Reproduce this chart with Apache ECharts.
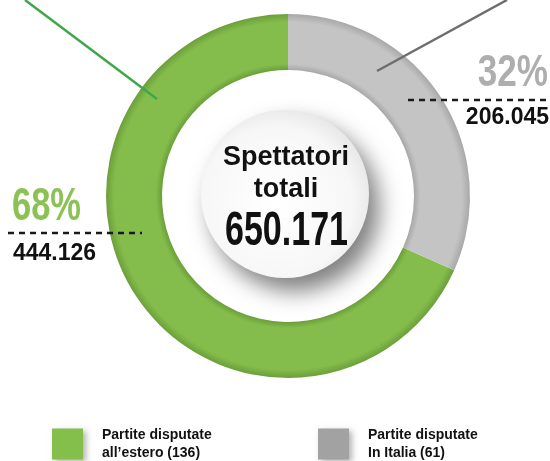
<!DOCTYPE html>
<html>
<head>
<meta charset="utf-8">
<script src="https://cdn.jsdelivr.net/npm/echarts@6/dist/echarts.min.js"></script>
<style>
  html, body { margin: 0; padding: 0; background: #ffffff; }
  #chart { width: 550px; height: 461px; }
</style>
</head>
<body>
<div id="chart"></div>
<script>
// Spectators by venue of the matches
const categories = ['Partite disputate\nall\u2019estero (136)', 'Partite disputate\nIn Italia (61)'];
const spectators = [444126, 206045];
const sliceColors = ['#84bd4b', '#c4c4c4'];
const swatchColors = ['#85bf4b', '#a2a2a2'];
const percentColors = ['#8cc153', '#aeaeae'];
const centerTitle = ['Spettatori', 'totali'];

const total = spectators.reduce((a, b) => a + b, 0);
const pct = spectators.map(v => Math.round(v / total * 100) + '%');
// Italian thousands separator
const fmt = n => String(n).replace(/\B(?=(\d{3})+(?!\d))/g, '.');

const CX = 288, CY = 196, R_IN = 126, R_OUT = 182;

function ringGradient(base, dark) {
  const k = R_IN / R_OUT;
  return {
    type: 'radial', x: CX, y: CY, r: R_OUT, global: true,
    colorStops: [
      { offset: 0, color: dark },
      { offset: k, color: dark },
      { offset: k + 0.035, color: base },
      { offset: 0.955, color: base },
      { offset: 1, color: dark }
    ]
  };
}

const chart = echarts.init(document.getElementById('chart'), null, { renderer: 'canvas' });

const legendText = {
  fontFamily: '"Liberation Sans", sans-serif',
  fontWeight: 'bold', fontSize: 14, lineHeight: 18, color: '#111',
  padding: [0, 0, 0, 14]
};
const legendBase = {
  orient: 'vertical', top: 426, itemWidth: 31, itemHeight: 31, padding: 0,
  selectedMode: false, icon: 'rect', textStyle: legendText
};
const legendItem = (i) => ({
  name: categories[i],
  itemStyle: {
    color: swatchColors[i],
    shadowBlur: 6, shadowColor: 'rgba(0,0,0,0.3)', shadowOffsetX: 3, shadowOffsetY: 2
  }
});

const font = (size) => 'bold ' + size + 'px "Liberation Sans", sans-serif';

chart.setOption({
  animation: false,
  legend: [
    Object.assign({}, legendBase, { left: 52, data: [legendItem(0)] }),
    Object.assign({}, legendBase, { left: 318, data: [legendItem(1)] })
  ],
  series: [{
    type: 'pie',
    center: [CX, CY],
    radius: [R_IN, R_OUT],
    startAngle: 90,
    clockwise: false,
    silent: true,
    label: { show: false },
    labelLine: { show: false },
    data: categories.map((c, i) => ({
      name: c,
      value: spectators[i],
      itemStyle: { color: ringGradient(sliceColors[i], i === 0 ? '#6c9e3b' : '#a8a8a8') }
    }))
  }],
  graphic: [
    // centre disc
    {
      type: 'circle', shape: { cx: 285, cy: 194, r: 84 }, z: 10,
      style: {
        fill: {
          type: 'radial', x: 0.45, y: 0.55, r: 0.6,
          colorStops: [{ offset: 0, color: '#ffffff' }, { offset: 0.75, color: '#f7f7f7' }, { offset: 1, color: '#e4e4e4' }]
        },
        shadowBlur: 22, shadowColor: 'rgba(0,0,0,0.5)', shadowOffsetX: 10, shadowOffsetY: 13
      }
    },
    { type: 'text', x: 286, y: 158, z: 11, style: { text: centerTitle[0], font: font(27), fill: '#111', textAlign: 'center', textVerticalAlign: 'middle' } },
    { type: 'text', x: 286, y: 190, z: 11, style: { text: centerTitle[1], font: font(27), fill: '#111', textAlign: 'center', textVerticalAlign: 'middle' } },
    { type: 'text', x: 286.5, y: 231, z: 11, scaleX: 0.695, style: { text: fmt(total), font: font(49), fill: '#111', textAlign: 'center', textVerticalAlign: 'middle' } },

    // leader lines
    { type: 'line', z: 5, shape: { x1: 25, y1: 0, x2: 157, y2: 99 }, style: { stroke: '#3fa74a', lineWidth: 2.5 } },
    { type: 'line', z: 5, shape: { x1: 507, y1: 0, x2: 377, y2: 71 }, style: { stroke: '#6e6e6e', lineWidth: 2.5 } },

    // dashed rules
    { type: 'line', z: 5, shape: { x1: 8, y1: 233, x2: 142, y2: 233 }, style: { stroke: '#1a1a1a', lineWidth: 2.5, lineDash: [6, 5] } },
    { type: 'line', z: 5, shape: { x1: 408, y1: 100, x2: 550, y2: 100 }, style: { stroke: '#1a1a1a', lineWidth: 2.5, lineDash: [6, 5] } },

    // percentage and value labels
    { type: 'text', x: 12, y: 207, z: 6, scaleX: 0.75, style: { text: pct[0], font: font(46), fill: percentColors[0], textAlign: 'left', textVerticalAlign: 'middle' } },
    { type: 'text', x: 13, y: 254, z: 6, style: { text: fmt(spectators[0]), font: font(23), fill: '#111', textAlign: 'left', textVerticalAlign: 'middle' } },
    { type: 'text', x: 548, y: 74, z: 6, scaleX: 0.78, style: { text: pct[1], font: font(45), fill: percentColors[1], textAlign: 'right', textVerticalAlign: 'middle' } },
    { type: 'text', x: 549, y: 118, z: 6, style: { text: fmt(spectators[1]), font: font(23), fill: '#111', textAlign: 'right', textVerticalAlign: 'middle' } }
  ]
});
</script>
</body>
</html>
